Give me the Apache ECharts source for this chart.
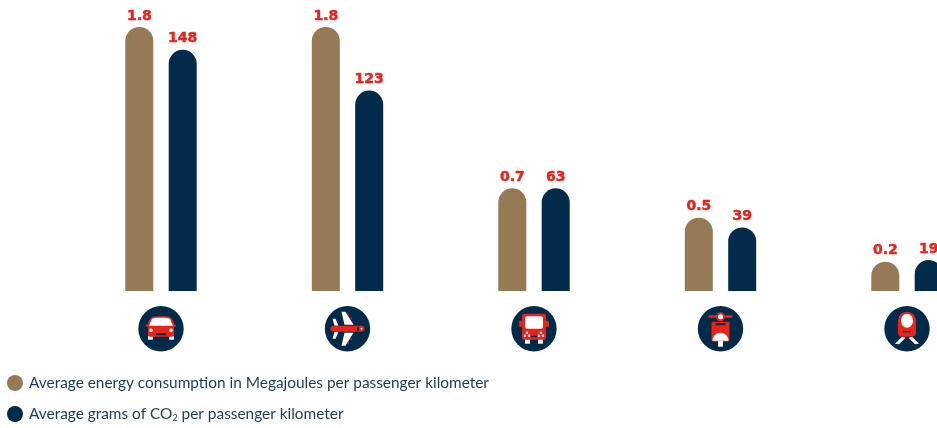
<!DOCTYPE html>
<html>
<head>
<meta charset="utf-8">
<style>html,body{margin:0;padding:0;background:#fff}#chart{width:937px;height:428px}</style>
<script src="https://cdn.jsdelivr.net/npm/echarts@6/dist/echarts.min.js"></script>
</head>
<body>
<div id="chart"></div>
<script>
// Transport modes, in display order
const modes = ['car', 'plane', 'bus', 'scooter', 'train'];
const energyName = 'Average energy consumption in Megajoules per passenger kilometer';
const co2Name = 'Average grams of CO2 per passenger kilometer';
const energyValues = [1.8, 1.8, 0.7, 0.5, 0.2];
const co2Values = [148, 123, 63, 39, 19];

const BROWN = '#967a56';
const NAVY = '#022b4a';
const RED = '#e8231a';
const WHITE = '#ffffff';
const TEXT = '#1d3b58';

const rect = (x, y, width, height, fill, r) => ({ type: 'rect', shape: { x, y, width, height, r: r || 0 }, style: { fill } });
const dot = (cx, cy, r, fill) => ({ type: 'circle', shape: { cx, cy, r }, style: { fill } });
const poly = (points, fill) => ({ type: 'polygon', shape: { points }, style: { fill } });
const oval = (cx, cy, rx, ry, fill) => ({ type: 'ellipse', shape: { cx, cy, rx, ry }, style: { fill } });

// Pictograms are drawn around (0,0), the middle of each navy disc
const pictograms = {
  car: () => [
    rect(-13, 7, 5, 4, WHITE), rect(8, 7, 5, 4, WHITE),
    rect(-15, -4.5, 30, 2.5, RED, 1),
    rect(-13, -12.5, 26, 20.5, RED, [8, 8, 2, 2]),
    poly([[-12, -3], [-9, -10], [-5, -11], [5, -11], [9, -10], [12, -3]], WHITE),
    dot(-10, 1.5, 1.8, WHITE), dot(10, 1.5, 1.8, WHITE),
    rect(-5, 4.5, 10, 2, NAVY)
  ],
  plane: () => [
    poly([[-6, -17], [-2, -17], [6, -4], [-3, -4]], WHITE),
    poly([[-6, 17], [-2, 17], [6, 4], [-3, 4]], WHITE),
    poly([[-15, -10], [-12, -10], [-9, -3], [-13, -3]], WHITE),
    poly([[-15, 10], [-12, 10], [-9, 3], [-13, 3]], WHITE),
    rect(0, -15, 1.5, 1.5, RED), rect(3, -11, 1.5, 1.5, RED),
    rect(0, 13.5, 1.5, 1.5, RED), rect(3, 9.5, 1.5, 1.5, RED),
    rect(-17, -3, 34, 6, RED, 3),
    rect(9.5, -2, 2, 4, NAVY),
    dot(14, 0, 1, WHITE)
  ],
  bus: () => [
    rect(-15, -8, 30, 6, RED, 1),
    rect(-9, 10, 5, 5, WHITE), rect(4, 10, 5, 5, WHITE),
    rect(-12, -15, 24, 26, RED, 2),
    rect(-9, -12.5, 18, 12.5, WHITE, 2),
    dot(-7, 4, 1.2, WHITE), dot(7, 4, 1.2, WHITE),
    dot(-9, 7, 1.2, WHITE), dot(-5, 7, 1.2, WHITE),
    dot(9, 7, 1.2, WHITE), dot(5, 7, 1.2, WHITE),
    rect(-3, 7, 6, 1.5, NAVY)
  ],
  scooter: () => [
    rect(-12, -13.5, 24, 2.5, RED, 1),
    dot(0, -12, 4.5, RED), dot(0, -12, 2.5, WHITE),
    rect(-9, -7, 18, 20, RED, 2),
    rect(-5, -5.5, 10, 2, NAVY),
    rect(-2.5, 12, 5, 6, WHITE),
    { type: 'sector', shape: { cx: 0, cy: 12, r: 8, r0: 0, startAngle: Math.PI, endAngle: 2 * Math.PI }, style: { fill: WHITE } }
  ],
  train: () => [
    poly([[-5, 8], [-1.5, 9], [-8, 15.5], [-12, 15]], WHITE),
    poly([[5, 8], [1.5, 9], [8, 15.5], [12, 15]], WHITE),
    rect(-9, -17, 18, 25, RED, [9, 9, 4, 4]),
    oval(0, -8, 6, 7, WHITE),
    rect(-4, 2.5, 8, 1.2, NAVY)
  ]
};

const valueLabel = {
  show: true, position: 'top', distance: 4, color: RED,
  fontFamily: 'DejaVu Sans', fontWeight: 'bold', fontSize: 14,
  textBorderColor: RED, textBorderWidth: 0.5
};

const option = {
  animation: false,
  backgroundColor: WHITE,
  grid: { left: 67.75, top: 27, width: 932.5, height: 264, outerBoundsMode: 'none' },
  legend: {
    orient: 'vertical',
    left: 7,
    top: 375,
    padding: 0,
    height: 53,
    itemWidth: 18,
    itemHeight: 16,
    itemGap: 15,
    icon: 'circle',
    selectedMode: false,
    data: [energyName, co2Name],
    formatter: name => name === co2Name
      ? '{t|Average grams of CO}{s|2}{t| per passenger kilometer}'
      : '{t|' + name + '}',
    textStyle: {
      rich: {
        t: { fontFamily: 'Lato', fontSize: 15.4, color: TEXT },
        s: { fontFamily: 'Lato', fontSize: 9, color: TEXT, padding: [9, 0, 0, 0] }
      }
    }
  },
  xAxis: { type: 'category', data: modes, show: false },
  yAxis: [
    { type: 'value', min: 0, max: 1.8, show: false },
    { type: 'value', min: 0, max: 162, show: false }
  ],
  series: [
    {
      name: energyName, type: 'bar', yAxisIndex: 0, data: energyValues,
      barWidth: 28, barGap: '55%',
      itemStyle: { color: BROWN, borderRadius: [14, 14, 0, 0] },
      label: Object.assign({ formatter: p => p.value.toFixed(1) }, valueLabel)
    },
    {
      name: co2Name, type: 'bar', yAxisIndex: 1, data: co2Values,
      barWidth: 28,
      itemStyle: { color: NAVY, borderRadius: [14, 14, 0, 0] },
      label: valueLabel
    },
    {
      // One disc with a pictogram under each pair of bars
      type: 'custom',
      clip: false,
      silent: true,
      data: modes.map((m, i) => [i, 0]),
      encode: { x: 0, y: 1 },
      renderItem: (params, api) => {
        const base = api.coord([api.value(0), 0]);
        return {
          type: 'group',
          x: base[0],
          y: base[1] + 37.7,
          children: [dot(0, 0, 22.7, NAVY)].concat(pictograms[modes[params.dataIndex]]())
        };
      }
    }
  ]
};

echarts.init(document.getElementById('chart'), null, { renderer: 'canvas' }).setOption(option);
</script>
</body>
</html>
